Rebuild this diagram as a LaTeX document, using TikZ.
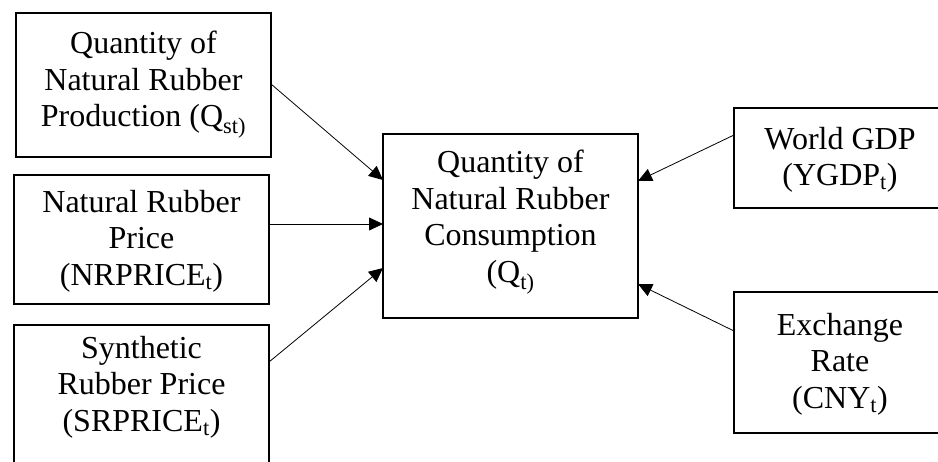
\documentclass[tikz,border=0pt]{standalone}
\usepackage{fontspec}
\setmainfont{Liberation Serif}
\usetikzlibrary{arrows.meta}
\begin{document}
\begin{tikzpicture}[x=1pt,y=-1pt,
  boxstyle/.style={draw,line width=2.4pt,inner sep=0pt,outer sep=0pt},
  txt/.style={align=center,font=\fontsize{32}{36.5}\selectfont,inner sep=0pt},
  arr/.style={line width=0.8pt,-{Triangle[length=14pt,width=13pt]}}]
\useasboundingbox (0,0) rectangle (938,462);
\clip (0,0) rectangle (938,462);
% left boxes
\node[boxstyle,minimum width=255pt,minimum height=144pt] (b1) at (143.5,85) {};
\node[txt] (t1) at (143.5,85) {Quantity of\\Natural Rubber\\Production (Q\textsubscript{st)}};
\node[boxstyle,minimum width=255pt,minimum height=129pt] (b2) at (141.5,239.5) {};
\node[txt] (t2) at (141.5,241) {Natural Rubber\\Price\\(NRPRICE\textsubscript{t})};
\node[boxstyle,minimum width=255pt,minimum height=155pt] (b3) at (141.5,402.5) {};
\node[txt] (t3) at (141.5,387) {Synthetic\\Rubber Price\\(SRPRICE\textsubscript{t})};
% centre box
\node[boxstyle,minimum width=255pt,minimum height=184pt] (c) at (510.5,226) {};
\node[txt] (tc) at (510.5,222) {Quantity of\\Natural Rubber\\Consumption\\(Q\textsubscript{t)}};
% right boxes
\node[boxstyle,minimum width=212pt,minimum height=100pt] (g) at (840,158) {};
\node[txt] (tg) at (840,160) {World GDP\\(YGDP\textsubscript{t})};
\node[boxstyle,minimum width=212pt,minimum height=141pt] (e) at (840,362.5) {};
\node[txt] (te) at (840,364) {Exchange\\Rate\\(CNY\textsubscript{t})};
% arrows
\draw[arr] ([yshift=1pt]b1.east) -- ([yshift=46pt]c.west);
\draw[arr] ([yshift=15.5pt]b2.east) -- ([yshift=2pt]c.west);
\draw[arr] ([yshift=40.5pt]b3.east) -- ([yshift=-42pt]c.west);
\draw[arr] ([yshift=23pt]g.west) -- ([yshift=45pt]c.east);
\draw[arr] ([yshift=31.5pt]e.west) -- ([yshift=-58pt]c.east);
\end{tikzpicture}
\end{document}
